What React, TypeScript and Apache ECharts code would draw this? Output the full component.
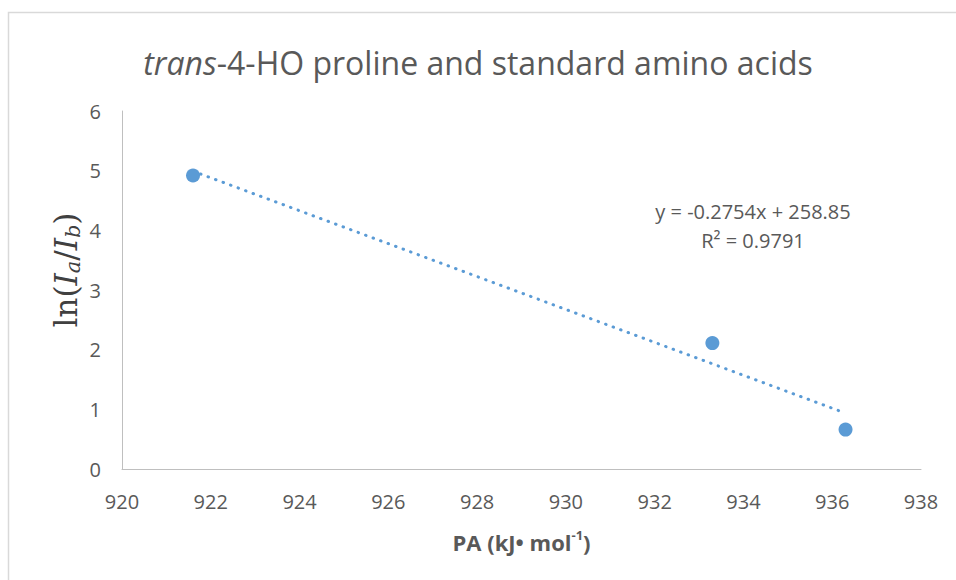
import React, { useEffect, useRef } from "react";
import * as echarts from "echarts";

// Proton affinity (kJ/mol) and ln(Ia/Ib) for each amino acid pair
const paValues: number[] = [921.6, 933.3, 936.3];
const lnRatio: number[] = [4.92, 2.11, 0.66];

const xTicks = { min: 920, max: 938, interval: 2 };
const yTicks = { min: 0, max: 6, interval: 1 };

const equationText = "y = -0.2754x + 258.85";
const rSquaredText = "R² = 0.9791";

const BLUE = "#5b9bd5";
const GREY_TEXT = "#595959";
const FONT = "'Open Sans', 'Noto Sans', sans-serif";
const SERIF = "'DejaVu Serif', 'Liberation Serif', serif";

// least-squares linear trendline through the measured points
function linearFit(xs: number[], ys: number[]) {
  const n = xs.length;
  const mx = xs.reduce((a, b) => a + b, 0) / n;
  const my = ys.reduce((a, b) => a + b, 0) / n;
  let sxy = 0;
  let sxx = 0;
  for (let i = 0; i < n; i++) {
    sxy += (xs[i] - mx) * (ys[i] - my);
    sxx += (xs[i] - mx) * (xs[i] - mx);
  }
  const slope = sxy / sxx;
  return { slope, intercept: my - slope * mx };
}

export default function App() {
  const ref = useRef<HTMLDivElement>(null);

  useEffect(() => {
    if (!ref.current) return;
    const chart = echarts.init(ref.current, undefined, { renderer: "svg" });

    const fit = linearFit(paValues, lnRatio);
    const xLo = Math.min(...paValues);
    const xHi = Math.max(...paValues);
    const trend = [
      [xLo, fit.slope * xLo + fit.intercept],
      [xHi, fit.slope * xHi + fit.intercept],
    ];

    chart.setOption({
      animation: false,
      backgroundColor: "#ffffff",
      title: {
        text: "{i|trans}{n|-4-HO proline and standard amino acids}",
        left: "center",
        top: 37,
        textStyle: {
          fontWeight: "normal",
          rich: {
            i: { fontFamily: FONT, fontSize: 32, fontStyle: "italic", fontWeight: "normal", color: GREY_TEXT, lineHeight: 40 },
            n: { fontFamily: FONT, fontSize: 32, fontWeight: "normal", color: GREY_TEXT, lineHeight: 40 },
          },
        },
      },
      grid: { left: 122, right: 35, top: 111, bottom: 111 },
      xAxis: {
        type: "value",
        min: xTicks.min,
        max: xTicks.max,
        interval: xTicks.interval,
        name: "{b|PA (kJ• mol}{s|-1}{b|)}",
        nameLocation: "middle",
        nameGap: 59,
        nameTextStyle: {
          rich: {
            b: { fontFamily: FONT, fontSize: 22, fontWeight: "bold", color: GREY_TEXT, lineHeight: 28 },
            s: { fontFamily: FONT, fontSize: 13, fontWeight: "bold", color: GREY_TEXT, lineHeight: 14, verticalAlign: "top" },
          },
        },
        axisLine: { show: true, lineStyle: { color: "#bfbfbf", width: 1 } },
        axisTick: { show: false },
        splitLine: { show: false },
        axisLabel: { fontFamily: FONT, fontSize: 20, color: GREY_TEXT, margin: 22 },
      },
      yAxis: {
        type: "value",
        min: yTicks.min,
        max: yTicks.max,
        interval: yTicks.interval,
        axisLine: { show: true, lineStyle: { color: "#bfbfbf", width: 1 } },
        axisTick: { show: false },
        splitLine: { show: false },
        axisLabel: { fontFamily: FONT, fontSize: 20, color: GREY_TEXT, margin: 21 },
      },
      graphic: [
        {
          type: "rect",
          silent: true,
          shape: { x: 8.5, y: 12.5, width: 1000, height: 700 },
          style: { fill: "none", stroke: "#d9d9d9", lineWidth: 1.5 },
          z: -10,
        },
        {
          // vertical axis title, ln(Ia/Ib), set in a math-style serif
          type: "text",
          x: 66,
          y: 270,
          rotation: Math.PI / 2,
          style: {
            text: "{n|ln(}{i|I}{s|a}{n|/}{i|I}{s|b}{n|)}",
            align: "center",
            verticalAlign: "middle",
            rich: {
              n: { fontFamily: SERIF, fontSize: 31, fill: "#404040", lineHeight: 34 },
              i: { fontFamily: SERIF, fontSize: 31, fontStyle: "italic", fill: "#404040", lineHeight: 34 },
              s: { fontFamily: SERIF, fontSize: 21, fontStyle: "italic", fill: "#404040", lineHeight: 16, verticalAlign: "bottom" },
            },
          },
        },
        {
          type: "text",
          x: 753,
          y: 211,
          style: { text: equationText, fontFamily: FONT, fontSize: 20, fill: GREY_TEXT, align: "center", verticalAlign: "middle" },
        },
        {
          type: "text",
          x: 753,
          y: 240,
          style: { text: rSquaredText, fontFamily: FONT, fontSize: 20, fill: GREY_TEXT, align: "center", verticalAlign: "middle" },
        },
      ],
      series: [
        {
          name: "Linear trend",
          type: "line",
          data: trend,
          showSymbol: false,
          silent: true,
          lineStyle: { color: BLUE, width: 3, type: [0.5, 7.5], cap: "round" },
          z: 1,
        },
        {
          name: "Amino acids",
          type: "scatter",
          data: paValues.map((x, i) => [x, lnRatio[i]]),
          symbol: "circle",
          symbolSize: 14,
          itemStyle: { color: BLUE, opacity: 1 },
          z: 2,
        },
      ],
    });

    return () => chart.dispose();
  }, []);

  return (
    <div
      ref={ref}
      style={{ position: "fixed", left: 0, top: 0, width: 956, height: 580 }}
    />
  );
}
